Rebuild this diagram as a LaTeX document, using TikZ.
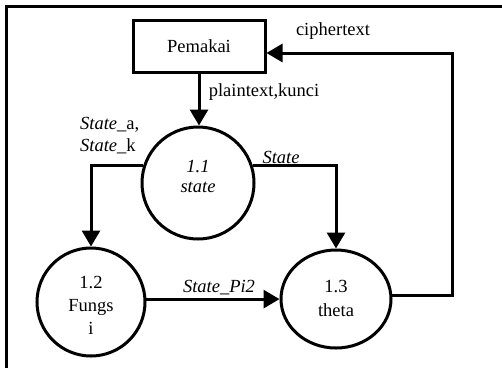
\documentclass[tikz,border=0pt]{standalone}
\usepackage{fontspec}
\setmainfont{Liberation Serif}
\usetikzlibrary{arrows.meta,shapes.geometric}
\begin{document}
\begin{tikzpicture}[x=1pt,y=-1pt,
  every node/.style={font=\fontsize{18.5}{22}\selectfont},
  proc/.style={draw,line width=3pt,circle,inner sep=0pt,align=center},
  ent/.style={draw,line width=3pt,rectangle,minimum width=132pt,minimum height=52pt,inner sep=0pt},
  flow/.style={line width=3pt,-{Triangle[length=16pt,width=18pt]}},
  lbl/.style={inner sep=0pt},
  inner/.style={inner sep=0pt,align=center}]
\useasboundingbox (0,0) rectangle (502,368);
\draw[line width=3pt] (502,6) -- (6,6) -- (6,368);
\node[ent] (box) at (199,46) {Pemakai};
\node[proc,minimum size=112pt,label={[inner,yshift=6.5pt]center:{\itshape 1.1\\[-2pt]\itshape state}}] (c11) at (198,183) {};
\node[proc,minimum size=108pt,label={[inner,yshift=-3pt]center:{1.2\\[1pt]Fungs\\[1pt]i}}] (c12) at (91,302) {};
\node[proc,ellipse,minimum width=110pt,minimum height=98pt,label={[inner,yshift=1pt]center:{1.3\\[2pt]theta}}] (c13) at (336,299) {};
\coordinate (turn) at (452,53);
\draw[flow] (box.south) -- (box.south |- c11.north);
\draw[flow] (c11.162) -| (c12.north);
\draw[flow] (c11.18) -| (c13.north);
\draw[flow] (c12.3) -- (c12.3 -| c13.west);
\draw[flow] (c13.4) -| (turn) -- (turn -| box.east);
\node[lbl] (lcipher) at (333,31) {ciphertext};
\node[lbl] (lplain) at (264,92) {plaintext,kunci};
\node[lbl,align=left,anchor=west] (lsa) at (80,136) {\textit{State}\_a,\\\textit{State}\_k};
\node[lbl] (lstate) at (281,157) {\textit{State}};
\node[lbl] (lpi) at (219,288) {\textit{State\_Pi2}};
\end{tikzpicture}
\end{document}
